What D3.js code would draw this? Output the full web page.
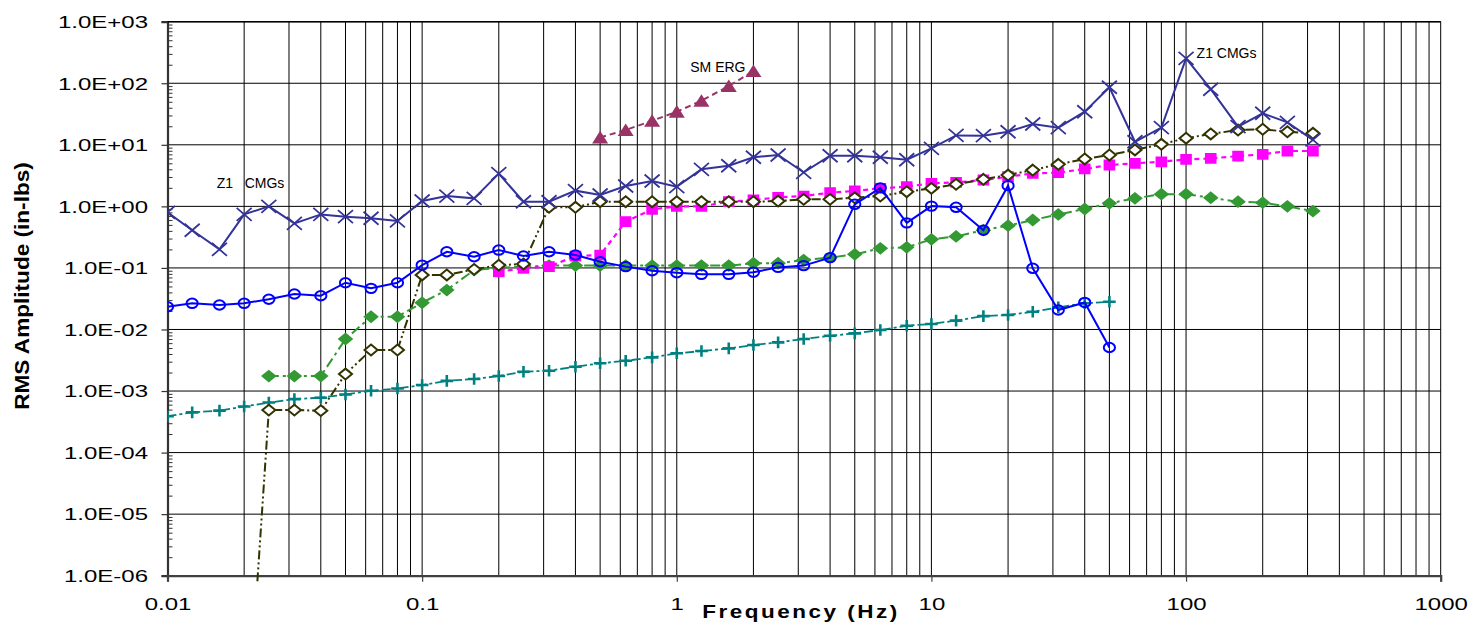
<!DOCTYPE html>
<html>
<head>
<meta charset="utf-8">
<script src="https://cdn.jsdelivr.net/npm/d3@7"></script>
<style>
  body { margin: 0; background: #fff; }
  text { font-family: "Liberation Sans", Arial, sans-serif; fill: #000; }
</style>
</head>
<body>
<div id="grafico"></div>
<script>
// Bandas de tercio de octava (Hz)
const freqs = [0.01, 0.0125, 0.016, 0.02, 0.025, 0.0315, 0.04, 0.05, 0.063, 0.08,
               0.1, 0.125, 0.16, 0.2, 0.25, 0.315, 0.4, 0.5, 0.63, 0.8,
               1, 1.25, 1.6, 2, 2.5, 3.15, 4, 5, 6.3, 8,
               10, 12.5, 16, 20, 25, 31.5, 40, 50, 63, 80,
               100, 125, 160, 200, 250, 315];

// Series (RMS, in-lbs); null = sin dato
const z1Cmgs = [0.8, 0.41, 0.2, 0.74, 1.0, 0.53, 0.74, 0.68, 0.64, 0.58,
                1.22, 1.47, 1.35, 3.4, 1.19, 1.19, 1.8, 1.53, 2.14, 2.58,
                2.09, 4.0, 4.57, 6.27, 6.83, 3.57, 6.65, 6.65, 6.27, 5.73,
                8.77, 14.2, 14.1, 16.3, 21.8, 19, 34.5, 86, 11.2, 19,
                254, 80, 19.7, 32.5, 23.2, 12];
const blueCircles = [0.0234, 0.0266, 0.025, 0.0266, 0.031, 0.0377, 0.0353, 0.0575, 0.0466, 0.0575,
                     0.111, 0.183, 0.152, 0.195, 0.156, 0.183, 0.162, 0.126, 0.105, 0.09,
                     0.0836, 0.0787, 0.0787, 0.085, 0.102, 0.109, 0.147, 1.08, 2.0, 0.54,
                     1.01, 0.966, 0.41, 2.17, 0.0986, 0.0207, 0.0275, 0.0051, null, null,
                     null, null, null, null, null, null];
const pinkSquares = [null, null, null, null, null, null, null, null, null, null,
                     null, null, null, 0.0867, 0.0986, 0.105, 0.156, 0.162, 0.564, 0.895,
                     1.0, 1.0, 1.19, 1.27, 1.4, 1.47, 1.67, 1.78, 1.96, 2.09,
                     2.37, 2.45, 2.68, 3.03, 3.44, 3.52, 4.05, 4.7, 5.0, 5.3,
                     5.8, 6.0, 6.57, 7.0, 7.94, 7.94];
const oliveDiamonds = [null, null, null, 5e-10, 0.00049, 0.00049, 0.00048, 0.00189, 0.00464, 0.00464,
                       0.0768, 0.0768, 0.0948, 0.111, 0.116, 0.966, 0.966, 1.19, 1.19, 1.19,
                       1.19, 1.19, 1.19, 1.19, 1.22, 1.3, 1.3, 1.38, 1.47, 1.73,
                       1.96, 2.28, 2.75, 3.23, 3.89, 4.82, 5.89, 6.83, 8.24, 10.2,
                       12.8, 15, 17.4, 17.9, 16.3, 15.4];
const greenDiamonds = [null, null, null, null, 0.00175, 0.00175, 0.00175, 0.007, 0.0161, 0.0161,
                       0.0272, 0.0437, 0.0924, 0.1, 0.105, 0.109, 0.109, 0.109, 0.109, 0.109,
                       0.109, 0.109, 0.109, 0.119, 0.119, 0.134, 0.147, 0.166, 0.208, 0.216,
                       0.291, 0.325, 0.41, 0.485, 0.6, 0.74, 0.906, 1.12, 1.35, 1.58,
                       1.58, 1.38, 1.19, 1.15, 1.0, 0.84];
const tealPlus = [0.00039, 0.00045, 0.00048, 0.00056, 0.00065, 0.00074, 0.00078, 0.00088, 0.00101, 0.0011,
                  0.00125, 0.00146, 0.00157, 0.00175, 0.00206, 0.00214, 0.00248, 0.00282, 0.0031, 0.00352,
                  0.0041, 0.00446, 0.00493, 0.00558, 0.00618, 0.007, 0.0079, 0.00865, 0.0098, 0.0115,
                  0.0123, 0.0139, 0.0165, 0.0172, 0.0194, 0.0229, 0.0266, 0.0282, null, null,
                  null, null, null, null, null, null];
const smErg = [null, null, null, null, null, null, null, null, null, null,
               null, null, null, null, null, null, null, 13.2, 17.4, 24.6,
               34.5, 52, 90, 158, null, null, null, null, null, null,
               null, null, null, null, null, null, null, null, null, null,
               null, null, null, null, null, null];

// Ejes
const xTickValues = [0.01, 0.1, 1, 10, 100, 1000];
const xTickLabels = ["0.01", "0.1", "1", "10", "100", "1000"];
const yTickValues = [1e-6, 1e-5, 1e-4, 1e-3, 1e-2, 1e-1, 1, 10, 100, 1000];
const yTickLabels = ["1.0E-06", "1.0E-05", "1.0E-04", "1.0E-03", "1.0E-02",
                     "1.0E-01", "1.0E+00", "1.0E+01", "1.0E+02", "1.0E+03"];

// Etiquetas dentro del grafico
const annotations = [
    { text: "Z1   CMGs", f: 0.0156, v: 1.99 },
    { text: "SM ERG", f: 1.13, v: 152 },
    { text: "Z1 CMGs", f: 110, v: 254 }
];

const W = 1473, H = 623;
const margin = { top: 21.7, right: 32.3, bottom: 47.3, left: 167.5 };

const x = d3.scaleLog().domain([0.01, 1000]).range([margin.left, W - margin.right]);
const y = d3.scaleLog().domain([1e-6, 1e3]).range([H - margin.bottom, margin.top]);

const svg = d3.select("#grafico").append("svg")
    .attr("width", W)
    .attr("height", H);

// Rejilla vertical (1..9 por decada)
const xMinor = [];
for (let e = -2; e <= 2; e++) for (let k = 1; k <= 9; k++) xMinor.push(k * Math.pow(10, e));
xMinor.push(1000);

const yMinor = [];
for (let e = -6; e < 3; e++) for (let k = 2; k <= 9; k++) yMinor.push(k * Math.pow(10, e));

svg.append("g").selectAll("line")
    .data(xMinor)
    .enter().append("line")
    .attr("x1", d => x(d)).attr("x2", d => x(d))
    .attr("y1", margin.top).attr("y2", H - margin.bottom)
    .attr("stroke", "#000").attr("stroke-width", 1);

svg.append("g").selectAll("line")
    .data(yTickValues)
    .enter().append("line")
    .attr("x1", margin.left).attr("x2", W - margin.right)
    .attr("y1", d => y(d)).attr("y2", d => y(d))
    .attr("stroke", "#000").attr("stroke-width", 1);

// Eje Y
const yAxis = svg.append("g")
    .attr("class", "y-axis")
    .attr("transform", `translate(${margin.left},0)`)
    .call(d3.axisLeft(y).tickValues(yTickValues).tickSize(6)
        .tickFormat((d, i) => yTickLabels[i]));
yAxis.select(".domain").attr("stroke", "#333").attr("stroke-width", 2.2);
yAxis.selectAll(".tick line").attr("stroke", "#333").attr("stroke-width", 1.2);
yAxis.selectAll("text")
    .attr("x", -13)
    .attr("dy", "0.36em")
    .attr("transform", "scale(1.5,1)")
    .style("font-size", "16px");

svg.append("g")
    .attr("transform", `translate(${margin.left},0)`)
    .call(d3.axisRight(y).tickValues(yMinor).tickSize(5).tickFormat(""))
    .call(g => g.select(".domain").remove())
    .selectAll("line").attr("stroke", "#333");

// Eje X
const xAxis = svg.append("g")
    .attr("class", "x-axis")
    .attr("transform", `translate(0,${H - margin.bottom})`)
    .call(d3.axisBottom(x).tickValues(xTickValues).tickSize(6)
        .tickFormat((d, i) => xTickLabels[i]));
xAxis.select(".domain").attr("stroke", "#404040").attr("stroke-width", 2.2);
xAxis.selectAll(".tick line").attr("stroke", "#404040").attr("stroke-width", 1.2);
xAxis.selectAll("text")
    .attr("y", 34.5)
    .attr("dy", 0)
    .attr("transform", "scale(1.5,1)")
    .style("font-size", "16px");

// Borde superior
svg.append("line")
    .attr("x1", margin.left).attr("x2", W - margin.right)
    .attr("y1", margin.top).attr("y2", margin.top)
    .attr("stroke", "#000").attr("stroke-width", 1.4);

// Titulos
svg.append("text")
    .attr("transform", `translate(29,286) rotate(-90) scale(1.13,1)`)
    .attr("text-anchor", "middle")
    .style("font-size", "20px")
    .style("font-weight", "bold")
    .text("RMS Amplitude (in-lbs)");

svg.append("text")
    .attr("transform", `translate(801,618) scale(1.25,1)`)
    .attr("text-anchor", "middle")
    .style("font-size", "18px")
    .style("font-weight", "bold")
    .style("letter-spacing", "2px")
    .text("Frequency (Hz)");

// Clip del area de trazado
svg.append("clipPath").attr("id", "plot-clip")
    .append("rect")
    .attr("x", margin.left).attr("y", margin.top)
    .attr("width", W - margin.left - margin.right)
    .attr("height", H - margin.top - margin.bottom + 6);

// Marcadores
const markers = {
    times: "M-7.5,-6.5L7.5,6.5M-7.5,6.5L7.5,-6.5",
    plus: "M-6.3,0L6.3,0M0,-5.8L0,5.8",
    square: "M-5.8,-5.4L5.8,-5.4L5.8,5.4L-5.8,5.4Z",
    diamondOpen: "M0,-5.4L6.5,0L0,5.4L-6.5,0Z",
    diamondFill: "M0,-6.4L7.8,0L0,6.4L-7.8,0Z",
    triangle: "M0,-6.6L8,6L-8,6Z"
};

const series = [
    { values: tealPlus, color: "#008080", dash: "9,3,3,3", width: 1.8, marker: "plus", fill: "none", mw: 2.6 },
    { values: greenDiamonds, color: "#339933", dash: "10,4,3,4", width: 2, marker: "diamondFill", fill: "#339933", mw: 0 },
    { values: pinkSquares, color: "#FF00FF", dash: "5,4", width: 2.2, marker: "square", fill: "#FF00FF", mw: 0 },
    { values: oliveDiamonds, color: "#333300", dash: "9,3,2,3,2,3", width: 2, marker: "diamondOpen", fill: "#fff", mw: 2 },
    { values: blueCircles, color: "#0000FF", dash: null, width: 2, marker: "ellipse", fill: "none", mw: 2 },
    { values: z1Cmgs, color: "#333399", dash: null, width: 2, marker: "times", fill: "none", mw: 1.8 },
    { values: smErg, color: "#993366", dash: "6,4", width: 2, marker: "triangle", fill: "#993366", mw: 0 }
];

const line = d3.line()
    .defined(d => d.v != null)
    .x(d => x(d.f))
    .y(d => y(d.v));

const plot = svg.append("g").attr("clip-path", "url(#plot-clip)");

series.forEach(s => {
    const pts = freqs.map((f, i) => ({ f: f, v: s.values[i] }));
    const g = plot.append("g");

    g.append("path")
        .datum(pts)
        .attr("fill", "none")
        .attr("stroke", s.color)
        .attr("stroke-width", s.width)
        .attr("stroke-dasharray", s.dash)
        .attr("d", line);

    const shown = pts.filter(d => d.v != null && d.v >= 1e-6);
    if (s.marker === "ellipse") {
        g.selectAll("ellipse")
            .data(shown)
            .enter().append("ellipse")
            .attr("cx", d => x(d.f))
            .attr("cy", d => y(d.v))
            .attr("rx", 5.6).attr("ry", 4.7)
            .attr("fill", "none")
            .attr("stroke", s.color)
            .attr("stroke-width", s.mw);
    } else {
        g.selectAll(".mk")
            .data(shown)
            .enter().append("path")
            .attr("class", "mk")
            .attr("transform", d => `translate(${x(d.f)},${y(d.v)})`)
            .attr("d", markers[s.marker])
            .attr("fill", s.fill)
            .attr("stroke", s.mw ? s.color : "none")
            .attr("stroke-width", s.mw);
    }
});

// Anotaciones
svg.append("g").selectAll("text")
    .data(annotations)
    .enter().append("text")
    .attr("x", d => x(d.f))
    .attr("y", d => y(d.v))
    .style("font-size", "14px")
    .style("white-space", "pre")
    .text(d => d.text);
</script>
</body>
</html>
